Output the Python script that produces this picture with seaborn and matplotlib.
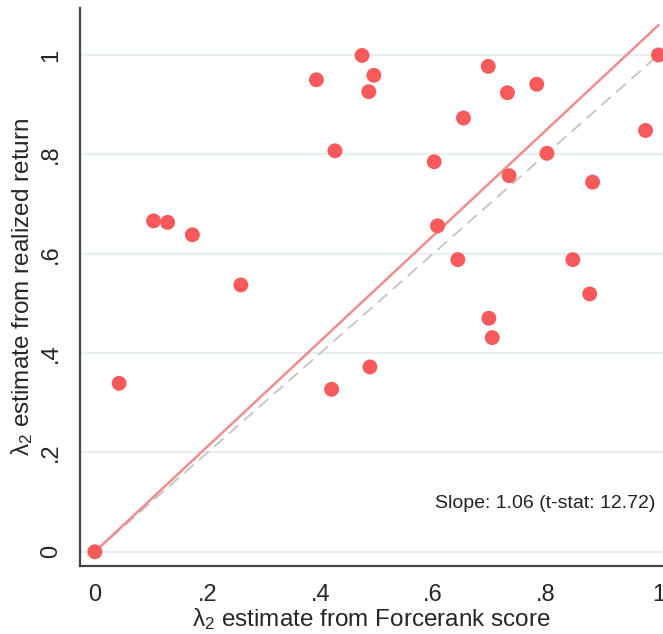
import numpy as np
import pandas as pd
import matplotlib.pyplot as plt
import seaborn as sns

# lambda_2 estimates
forcerank = [0.0, 0.043, 0.104, 0.129, 0.173, 0.259, 0.393, 0.426, 0.420, 0.474,
             0.486, 0.495, 0.488, 0.602, 0.608, 0.644, 0.654, 0.698, 0.732, 0.735,
             0.699, 0.705, 0.784, 0.802, 0.848, 0.883, 0.878, 0.977, 1.0]
realized = [0.0, 0.339, 0.666, 0.663, 0.638, 0.537, 0.950, 0.807, 0.327, 0.999,
            0.926, 0.959, 0.372, 0.785, 0.656, 0.588, 0.873, 0.977, 0.924, 0.757,
            0.470, 0.431, 0.941, 0.802, 0.588, 0.744, 0.519, 0.848, 1.0]
slope = 1.06
tstat = 12.72
ticks = [0, 0.2, 0.4, 0.6, 0.8, 1.0]
tick_labels = ["0", ".2", ".4", ".6", ".8", "1"]

df = pd.DataFrame({"fr": forcerank, "rr": realized})

sns.set_style("white")
plt.rcParams["font.family"] = ["Liberation Sans", "DejaVu Sans"]
plt.rcParams["mathtext.fontset"] = "custom"
plt.rcParams["mathtext.rm"] = "Liberation Sans"
plt.rcParams["mathtext.it"] = "Liberation Sans"

fig = plt.figure(figsize=(6.63, 6.34), dpi=100)
ax = fig.add_axes([0.121, 0.107, 0.879, 0.880])

for t in ticks:
    ax.axhline(t, color="#e9eef1", lw=1.6, zorder=0)

xs = np.array([0, 1.0])
ax.plot(xs, xs, color="#c4c4c4", lw=1.3, ls=(0, (7, 4)), zorder=1)
ax.plot(xs, slope * xs, color="#f08c8c", lw=1.8, zorder=2)

sns.scatterplot(data=df, x="fr", y="rr", color="#f8595a", s=115,
                edgecolor="none", ax=ax, zorder=3)

ax.text(0.994, 0.098, f"Slope: {slope:.2f} (t-stat: {tstat:.2f})",
        ha="right", va="center", fontsize=14, color="#222222")

ax.set_xlim(-0.026, 1.008)
ax.set_ylim(-0.029, 1.094)
ax.set_xticks(ticks)
ax.set_xticklabels(tick_labels)
ax.set_yticks(ticks)
ax.set_yticklabels(tick_labels, rotation=90, va="center")
ax.tick_params(axis="both", direction="out", length=8, width=1.3,
               color="#333333", labelsize=17, pad=5)

for side in ["top", "right"]:
    ax.spines[side].set_visible(False)
for side in ["left", "bottom"]:
    ax.spines[side].set_color("#444444")
    ax.spines[side].set_linewidth(1.6)

ax.set_xlabel("λ$_2$ estimate from Forcerank score", fontsize=17.5, labelpad=0)
ax.set_ylabel("λ$_2$ estimate from realized return", fontsize=17.5, labelpad=4)

fig.savefig("out.png", dpi=100)
